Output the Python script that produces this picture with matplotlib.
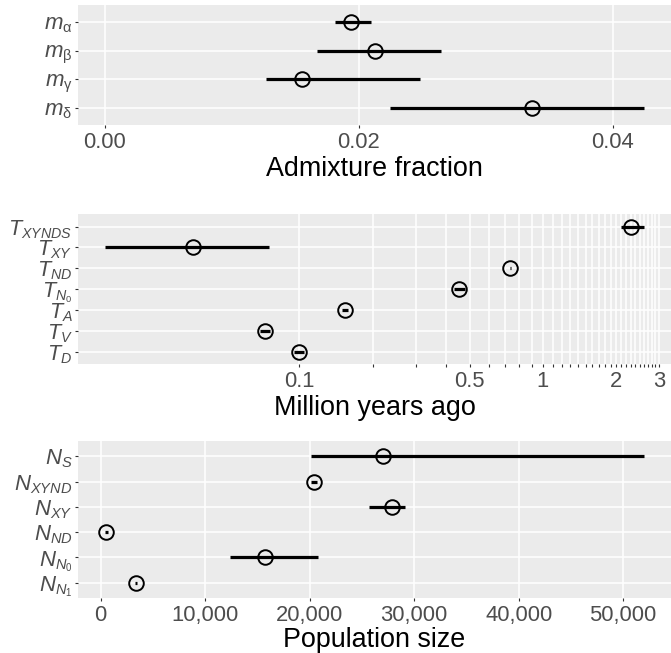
import matplotlib
matplotlib.use("Agg")
import matplotlib.pyplot as plt
import matplotlib.ticker as mticker
import matplotlib._mathtext as mathtext_internal
import numpy as np

plt.rcParams["font.family"] = ["Liberation Sans", "DejaVu Sans"]
plt.rcParams["mathtext.fontset"] = "custom"
plt.rcParams["mathtext.rm"] = "Liberation Sans"
plt.rcParams["mathtext.it"] = "Liberation Sans:italic"
plt.rcParams["mathtext.bf"] = "Liberation Sans:bold"
# plotmath-like smaller subscripts
mathtext_internal.SHRINK_FACTOR = 0.66

# admixture fractions
m_labels = [r"$m_{\mathrm{\alpha}}$", r"$m_{\mathrm{\beta}}$",
            r"$m_{\mathrm{\gamma}}$", r"$m_{\mathrm{\delta}}$"]
m_est = [0.01934, 0.02128, 0.01553, 0.03361]
m_lo = [0.01808, 0.01671, 0.01271, 0.02242]
m_hi = [0.02094, 0.02649, 0.02481, 0.04245]
m_ticks = [0.00, 0.02, 0.04]
m_ticklabels = ["0.00", "0.02", "0.04"]

# split times (million years ago)
t_labels = [r"$T_{XYNDS}$", r"$T_{XY}$", r"$T_{ND}$", r"$T_{N_{\mathrm{0}}}$",
            r"$T_{A}$", r"$T_{V}$", r"$T_{D}$"]
t_est = [2.30, 0.0364, 0.7366, 0.4547, 0.1538, 0.0723, 0.0999]
t_lo = [2.094, 0.01586, 0.734, 0.433, 0.149, 0.0689, 0.0952]
t_hi = [2.609, 0.0750, 0.740, 0.477, 0.158, 0.0759, 0.1048]
t_breaks = np.round(np.arange(0.1, 3.01, 0.1), 1)
t_shown = {0.1: "0.1", 0.5: "0.5", 1.0: "1", 2.0: "2", 3.0: "3"}

# population sizes
n_labels = [r"$N_{S}$", r"$N_{XYND}$", r"$N_{XY}$", r"$N_{ND}$",
            r"$N_{N_{\mathrm{0}}}$", r"$N_{N_{\mathrm{1}}}$"]
n_est = [27070, 20400, 27930, 564, 15745, 3400]
n_lo = [20160, 20110, 25640, 420, 12430, 3330]
n_hi = [52000, 20690, 29150, 710, 20770, 3470]
n_ticks = [0, 10000, 20000, 30000, 40000, 50000]

W, H = 671, 653
fig = plt.figure(figsize=(W / 100, H / 100), dpi=100)


def panel(top, bottom, ysize=16):
    # pixel box -> figure fraction
    ax = fig.add_axes([78 / W, 1 - bottom / H, (W - 78) / W, (bottom - top) / H])
    ax.set_facecolor("#EBEBEB")
    for s in ax.spines.values():
        s.set_visible(False)
    ax.grid(True, color="white", linewidth=1.1)
    ax.set_axisbelow(True)
    ax.tick_params(length=2.5, width=0.8, color="#333333", labelcolor="#4D4D4D",
                   labelsize=15.8, pad=2.5)
    ax.tick_params(axis="y", pad=1.5, labelsize=ysize)
    return ax


def draw(ax, labels, est, lo, hi, xlabel, lpad=2):
    y = np.arange(len(labels))
    ax.hlines(y, lo, hi, color="black", linewidth=2.3, zorder=3)
    ax.plot(est, y, "o", ms=10.5, mfc="none", mec="black", mew=1.4, zorder=4)
    ax.set_yticks(y)
    ax.set_yticklabels(labels)
    ax.set_ylim(len(labels) - 1 + 0.6, -0.6)
    ax.set_xlabel(xlabel, fontsize=19.4, color="black", labelpad=lpad)


ax1 = panel(5, 125)
draw(ax1, m_labels, m_est, m_lo, m_hi, "Admixture fraction")
hi1 = max(m_hi)
ax1.set_xlim(-0.05 * hi1, hi1 * 1.05)
ax1.set_xticks(m_ticks)
ax1.set_xticklabels(m_ticklabels)

ax2 = panel(214, 364, ysize=15.6)
ax2.set_xscale("log")
draw(ax2, t_labels, t_est, t_lo, t_hi, "Million years ago")
lmin, lmax = np.log10(min(t_lo)), np.log10(max(t_hi))
r = lmax - lmin
ax2.set_xlim(10 ** (lmin - 0.05 * r), 10 ** (lmax + 0.05 * r))
ax2.xaxis.set_major_locator(mticker.FixedLocator(t_breaks))
ax2.xaxis.set_major_formatter(mticker.FixedFormatter([t_shown.get(b, "") for b in t_breaks]))
ax2.xaxis.set_minor_locator(mticker.NullLocator())

ax3 = panel(441, 598)
draw(ax3, n_labels, n_est, n_lo, n_hi, "Population size", lpad=0.5)
ax3.set_xticks(n_ticks)
ax3.xaxis.set_major_formatter(mticker.FuncFormatter(lambda v, p: f"{v:,.0f}"))

fig.savefig("out.png", dpi=100)
